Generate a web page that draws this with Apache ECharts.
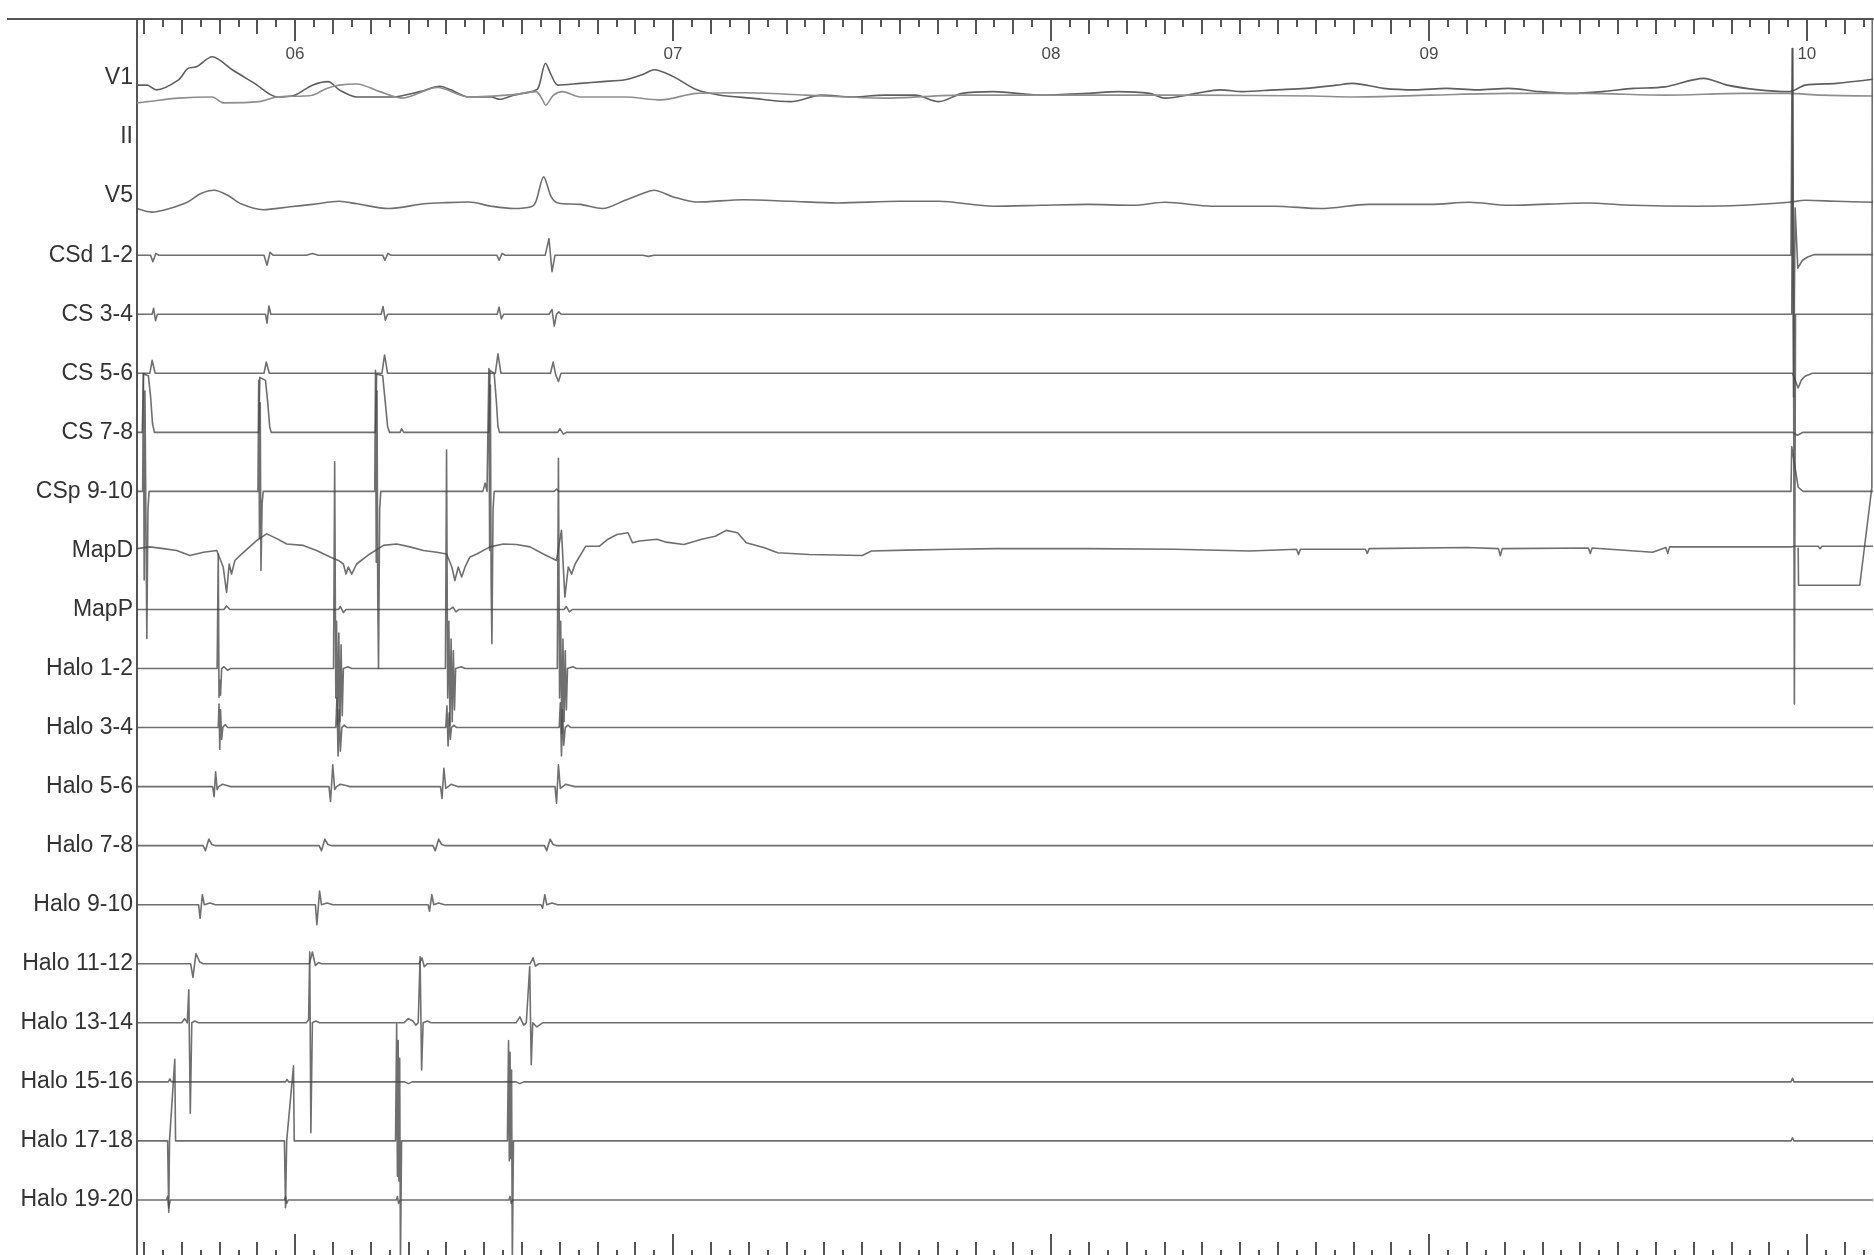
<!DOCTYPE html>
<html>
<head>
<meta charset="utf-8">
<script src="https://cdn.jsdelivr.net/npm/echarts@6/dist/echarts.min.js"></script>
<style>
html,body{margin:0;padding:0;background:#fff;}
#c{width:1874px;height:1255px;}
</style>
</head>
<body>
<div id="c"></div>
<script>
// ---- channels (row labels, top to bottom) ----
const CHANNELS = ['V1','II','V5','CSd 1-2','CS 3-4','CS 5-6','CS 7-8','CSp 9-10','MapD','MapP',
  'Halo 1-2','Halo 3-4','Halo 5-6','Halo 7-8','Halo 9-10','Halo 11-12','Halo 13-14','Halo 15-16','Halo 17-18','Halo 19-20'];

// time axis (s) and tick labels
const T_MIN = 5.582, T_MAX = 10.175;
const MAJOR_TICKS = [6, 7, 8, 9, 10];
const MAJOR_LABELS = ['06', '07', '08', '09', '10'];

// ---- signal values: [time s, amplitude] ; amplitude in tenths of a channel spacing, up = positive ----
const V1_A = [[5.582,-1.2],[5.609,-1.2],[5.633,-2.0],[5.692,-0.3],[5.716,1.6],[5.739,1.9],[5.781,3.6],[5.834,1.4],[5.893,-0.9],[5.952,-3.2],[5.999,-2.9],[6.046,-1.2],[6.088,-0.6],[6.117,-2.0],[6.164,-3.2],[6.224,-3.2],[6.259,-3.2],[6.330,-2.3],[6.383,-1.4],[6.412,-2.0],[6.460,-3.2],[6.519,-3.2],[6.542,-3.6],[6.578,-2.9],[6.625,-2.3],[6.643,-1.75],[6.663,2.5],[6.678,0.5],[6.696,-1.2],[6.755,-0.9],[6.814,-0.6],[6.873,-0.3],[6.920,0.6],[6.950,1.4],[7.001,0.24],[7.063,-2.0],[7.125,-2.9],[7.207,-3.4],[7.311,-4.0],[7.393,-2.9],[7.476,-3.2],[7.559,-2.9],[7.641,-2.9],[7.703,-4.0],[7.765,-2.6],[7.848,-2.3],[7.972,-2.9],[8.096,-2.6],[8.178,-2.3],[8.261,-2.6],[8.302,-3.4],[8.385,-2.6],[8.447,-2.0],[8.509,-2.3],[8.591,-2.0],[8.674,-1.75],[8.756,-1.2],[8.798,-0.9],[8.880,-1.75],[8.963,-2.0],[9.046,-1.75],[9.128,-2.0],[9.211,-1.75],[9.293,-2.3],[9.376,-2.6],[9.459,-2.3],[9.541,-1.75],[9.624,-1.5],[9.727,-0.05],[9.789,-1.2],[9.872,-2.0],[9.954,-2.3],[9.996,-1.2],[10.078,-0.9],[10.175,-0.2]];
const V1_B = [[5.582,-4.2],[5.609,-4.0],[5.692,-3.4],[5.781,-3.2],[5.810,-4.2],[5.905,-4.0],[5.952,-3.2],[6.046,-2.9],[6.082,-1.8],[6.117,-1.2],[6.164,-1.0],[6.224,-2.3],[6.283,-3.4],[6.377,-1.6],[6.460,-3.2],[6.578,-2.8],[6.637,-2.3],[6.655,-3.7],[6.663,-4.6],[6.684,-2.9],[6.708,-2.3],[6.755,-3.2],[6.873,-3.2],[6.968,-3.7],[7.063,-2.6],[7.187,-2.5],[7.352,-2.9],[7.559,-3.4],[7.765,-2.9],[7.972,-2.9],[8.178,-2.9],[8.385,-2.9],[8.694,-3.05],[8.798,-3.2],[9.004,-2.9],[9.211,-2.6],[9.417,-2.6],[9.624,-2.9],[9.830,-2.6],[9.954,-2.6],[10.037,-2.9],[10.175,-3.05]];
const V5 = [[5.582,-2.1],[5.621,-2.7],[5.668,-2.1],[5.716,-1.0],[5.751,0.43],[5.786,1.0],[5.822,0.15],[5.857,-1.3],[5.916,-2.3],[5.987,-1.8],[6.046,-1.4],[6.117,-0.87],[6.164,-1.3],[6.247,-2.1],[6.342,-1.3],[6.401,-1.1],[6.460,-1.0],[6.519,-1.7],[6.578,-2.1],[6.625,-1.8],[6.637,-1.0],[6.658,3.26],[6.678,-0.13],[6.696,-1.15],[6.755,-1.4],[6.814,-2.1],[6.873,-0.7],[6.920,0.43],[6.950,1.0],[7.001,-0.13],[7.063,-1.0],[7.187,-0.6],[7.311,-0.87],[7.435,-1.15],[7.600,-0.87],[7.703,-0.87],[7.848,-1.7],[7.972,-1.55],[8.096,-1.4],[8.219,-1.55],[8.302,-1.04],[8.426,-1.7],[8.591,-1.7],[8.715,-2.1],[8.839,-1.4],[9.004,-1.4],[9.107,-1.04],[9.211,-1.55],[9.417,-1.15],[9.541,-1.55],[9.706,-1.7],[9.830,-1.55],[9.954,-1.04],[9.996,-0.7],[10.078,-0.87],[10.175,-1.04]];
const CSD_12 = [[5.582,0],[5.618,0],[5.624,-1.1],[5.632,0.3],[5.640,0],[5.918,0],[5.926,-1.7],[5.934,0.5],[5.942,0],[6.030,0],[6.046,0.3],[6.062,0],[6.232,0],[6.238,-0.85],[6.246,0.3],[6.254,0],[6.534,0],[6.540,-0.85],[6.548,0.3],[6.556,0],[6.662,0],[6.672,2.8],[6.680,-2.8],[6.688,0],[6.920,0],[6.935,-0.2],[6.950,0],[9.958,0],[9.961,35],[9.965,-24],[9.969,8],[9.976,-2.2],[9.988,-0.9],[10.002,-0.3],[10.020,0.1],[10.175,0.1]];
const CS_34 = [[5.582,0],[5.622,0],[5.626,1.0],[5.631,-1.1],[5.636,0],[5.922,0],[5.926,-1.5],[5.931,1.4],[5.936,0],[6.228,0],[6.233,1.3],[6.239,-1.0],[6.245,0],[6.535,0],[6.540,1.2],[6.546,-0.8],[6.552,0],[6.672,0],[6.680,0.8],[6.686,-2.0],[6.692,0],[6.698,0.4],[6.704,0],[9.960,0],[9.963,45],[9.967,-66],[9.970,0],[10.175,0]];
const CS_56 = [[5.582,0],[5.616,0],[5.622,2.2],[5.630,0],[5.918,0],[5.924,1.9],[5.932,0],[6.230,0],[6.237,3.1],[6.245,0],[6.530,0],[6.537,3.3],[6.545,0],[6.676,0],[6.683,1.9],[6.690,-0.3],[6.697,-1.4],[6.704,0],[9.962,0],[9.977,-2.5],[9.985,-1.2],[9.995,-0.5],[10.015,0],[10.175,0]];
const CS_78 = [[5.582,0],[5.596,0],[5.599,9.9],[5.612,9.6],[5.618,6],[5.623,1.5],[5.628,0],[5.904,0],[5.907,9.3],[5.922,8.8],[5.928,5],[5.933,1],[5.937,0],[6.213,0],[6.216,9.9],[6.232,9.6],[6.239,5],[6.245,1],[6.250,0],[6.278,0],[6.282,0.6],[6.288,0],[6.513,0],[6.516,10.5],[6.527,10],[6.533,5],[6.537,1],[6.541,0],[6.695,0],[6.701,0.6],[6.710,-0.3],[6.718,0],[9.962,0],[9.975,-0.5],[9.990,0],[10.175,0]];
const CSP_910 = [[5.582,0],[5.597,0],[5.599,20],[5.601,-15],[5.603,17],[5.606,-8],[5.608,-24.9],[5.611,-3],[5.614,0],[5.902,0],[5.904,18.8],[5.906,-8],[5.908,15],[5.910,-13.4],[5.913,-2],[5.916,0],[6.211,0],[6.213,20.5],[6.215,-12],[6.217,17],[6.219,-18],[6.221,-30],[6.224,-3],[6.227,0],[6.497,0],[6.503,1.4],[6.508,0],[6.511,0],[6.513,20.8],[6.515,-10],[6.517,18],[6.519,-16],[6.521,-25.8],[6.524,-3],[6.527,0],[6.686,0],[6.692,0.4],[6.698,0],[9.958,0],[9.960,7.6],[9.977,0.7],[9.990,0],[10.175,0]];
const MAP_D = [[5.582,0.3],[5.616,0.6],[5.652,0.3],[5.687,0],[5.722,-0.85],[5.758,-0.3],[5.793,0],[5.810,-2.8],[5.819,-7.1],[5.826,-2.3],[5.832,-4.0],[5.841,-1.7],[5.855,-0.85],[5.899,1.7],[5.925,2.8],[5.952,2.0],[5.978,1.1],[6.022,0.85],[6.057,0],[6.093,-1.1],[6.115,-1.7],[6.128,-2.3],[6.135,-4.0],[6.141,-2.8],[6.150,-4.0],[6.163,-2.3],[6.198,-0.6],[6.234,0.85],[6.269,1.1],[6.304,0.6],[6.340,0],[6.375,-0.3],[6.401,-0.6],[6.415,-2.8],[6.423,-5.1],[6.432,-2.8],[6.441,-4.5],[6.450,-2.8],[6.463,-1.1],[6.481,-0.6],[6.516,0.6],[6.551,1.1],[6.586,1.0],[6.622,0.6],[6.657,-0.6],[6.692,-1.7],[6.705,3.4],[6.714,-7.9],[6.723,-2.8],[6.732,-4.0],[6.741,-2.3],[6.769,0.7],[6.805,0.7],[6.828,1.9],[6.852,2.7],[6.881,3.0],[6.893,1.3],[6.911,1.6],[6.958,1.9],[6.982,1.4],[7.029,1.0],[7.076,1.9],[7.112,2.4],[7.141,3.4],[7.171,3.0],[7.194,1.3],[7.242,0.45],[7.277,-0.4],[7.360,-0.7],[7.501,-0.85],[7.525,-0.1],[7.619,0.05],[7.738,0.2],[7.856,0.3],[8.092,0.3],[8.328,0.2],[8.526,-0.1],[8.650,0.2],[8.655,-0.7],[8.660,0.2],[8.832,0.2],[8.837,-0.5],[8.842,0.3],[9.100,0.5],[9.184,0.3],[9.189,-0.9],[9.194,0.3],[9.422,0.4],[9.427,-0.5],[9.432,0.4],[9.592,-0.3],[9.627,0.5],[9.632,-0.5],[9.637,0.6],[9.800,0.6],[9.958,0.6],[9.970,0.7],[10.030,0.7],[10.035,0.3],[10.040,0.7],[10.175,0.7]];
const MAP_P = [[5.582,0],[5.812,0],[5.819,0.6],[5.828,0],[6.115,0],[6.120,0.5],[6.128,-0.5],[6.135,0],[6.410,0],[6.418,0.4],[6.426,-0.4],[6.434,0],[6.712,0],[6.718,0.5],[6.726,-0.4],[6.734,0],[9.970,0],[10.175,0]];
const MAP_P_SAT = [[9.977,10.5],[9.978,4.1],[10.140,4.1],[10.172,20.7],[10.173,100]];
const HALO_12 = [[5.582,0],[5.794,0],[5.797,19.4],[5.799,-4.9],[5.801,-2],[5.803,-4.5],[5.806,0],[5.812,0.3],[5.822,-0.3],[5.830,0],[6.102,0],[6.105,35],[6.108,-5],[6.110,8],[6.113,-9.5],[6.116,6],[6.119,-9],[6.122,4],[6.125,-8],[6.128,0],[6.140,0.3],[6.150,0],[6.398,0],[6.401,37],[6.404,-5],[6.407,8],[6.410,-9.6],[6.413,5],[6.416,-9],[6.419,3],[6.422,-7],[6.425,0],[6.440,0.3],[6.450,0],[6.694,0],[6.697,35.6],[6.700,-5],[6.703,8],[6.706,-11],[6.709,5],[6.712,-9],[6.715,3],[6.718,-7],[6.721,0],[6.735,0.3],[6.745,0],[10.175,0]];
const HALO_34 = [[5.582,0],[5.797,0],[5.799,4],[5.801,-3.7],[5.803,3],[5.806,-2],[5.809,0],[5.815,0.5],[5.822,0],[6.108,0],[6.111,5],[6.114,-4.8],[6.117,3],[6.120,-4],[6.124,0],[6.130,0.4],[6.138,0],[6.399,0],[6.402,3.7],[6.405,-3.1],[6.408,2.5],[6.411,-2],[6.414,0],[6.420,0.4],[6.428,0],[6.699,0],[6.702,4.2],[6.705,-4.8],[6.708,3],[6.711,-3],[6.715,0],[6.722,0.4],[6.730,0],[10.175,0]];
const HALO_56 = [[5.582,0],[5.782,0],[5.786,-1.7],[5.790,2.5],[5.794,-0.5],[5.798,0],[5.808,0.4],[5.820,0.2],[5.830,0],[6.090,0],[6.094,-2.5],[6.100,3.7],[6.105,-0.5],[6.110,0],[6.120,0.4],[6.135,0.2],[6.145,0],[6.385,0],[6.389,-2],[6.394,3.1],[6.399,-0.3],[6.403,0],[6.413,0.4],[6.430,0],[6.688,0],[6.692,-2.8],[6.697,3.7],[6.702,-0.3],[6.706,0],[6.716,0.4],[6.740,0],[10.175,0]];
const HALO_78 = [[5.582,0],[5.757,0],[5.763,-0.85],[5.772,1.1],[5.780,0.2],[5.790,0],[6.064,0],[6.070,-0.85],[6.079,1.1],[6.087,0.2],[6.097,0],[6.365,0],[6.371,-0.85],[6.380,1.1],[6.388,0.2],[6.398,0],[6.660,0],[6.666,-0.85],[6.675,1.1],[6.683,0.2],[6.693,0],[10.175,0]];
const HALO_910 = [[5.582,0],[5.745,0],[5.749,-2.3],[5.755,1.7],[5.760,0],[5.775,0.3],[5.790,0],[6.054,0],[6.058,-3.4],[6.065,2.3],[6.070,0],[6.085,0.3],[6.100,0],[6.352,0],[6.356,-1.1],[6.362,1.7],[6.367,0],[6.380,0.3],[6.395,0],[6.651,0],[6.655,-0.6],[6.661,1.7],[6.666,0],[6.680,0.3],[6.695,0],[10.175,0]];
const HALO_1112 = [[5.582,0],[5.724,0],[5.730,-2.3],[5.738,1.7],[5.748,0.3],[5.757,0],[6.038,0],[6.046,2.0],[6.054,-0.3],[6.062,0.2],[6.070,0],[6.328,0],[6.336,1.0],[6.342,-0.5],[6.350,0],[6.622,0],[6.630,1.0],[6.636,-0.4],[6.645,0],[10.175,0]];
const HALO_1314 = [[5.582,0],[5.700,0],[5.708,0.7],[5.715,0],[5.719,5.6],[5.723,-15.3],[5.727,0],[5.735,0.3],[5.745,0],[6.030,0],[6.036,0.5],[6.039,12],[6.042,-18.6],[6.046,0],[6.055,0.3],[6.065,0],[6.288,0],[6.300,0.7],[6.312,0.3],[6.320,-0.4],[6.326,0],[6.331,11.2],[6.335,-8],[6.339,0],[6.350,0.3],[6.360,0],[6.585,0],[6.595,1.0],[6.605,-0.4],[6.612,0],[6.621,9.5],[6.625,-7.1],[6.629,0],[6.640,-0.7],[6.655,0],[10.175,0]];
const HALO_1516 = [[5.582,0],[5.665,0],[5.669,0.5],[5.673,0],[5.975,0],[5.979,0.4],[5.983,0],[6.290,0],[6.300,-0.3],[6.310,0],[6.585,0],[6.595,-0.3],[6.605,0],[9.958,0],[9.962,0.6],[9.966,0],[10.175,0]];
const HALO_1718 = [[5.582,0],[5.663,0],[5.666,-12.1],[5.668,0],[5.682,13.8],[5.684,0],[5.972,0],[5.975,-11.3],[5.978,0],[5.996,12.7],[5.998,0],[6.266,0],[6.269,19.8],[6.271,-6],[6.273,17],[6.275,-6.8],[6.277,14],[6.279,-21],[6.282,0],[6.562,0],[6.565,17],[6.567,-3.4],[6.569,15],[6.571,-3],[6.573,12],[6.575,-21],[6.578,0],[9.958,0],[9.962,0.5],[9.966,0],[10.175,0]];
const HALO_1920 = [[5.582,0],[5.660,0],[5.663,0.6],[5.666,-1.4],[5.670,0],[5.972,0],[5.975,0.6],[5.978,-0.6],[5.982,0],[6.268,0],[6.271,0.6],[6.274,-0.6],[6.278,0],[6.566,0],[6.569,0.6],[6.572,-0.6],[6.576,0],[10.175,0]];

const TRACES = [
  {row:0, data:V1_A, color:'#5f5f5f', smooth:0.3},
  {row:0, data:V1_B, color:'#8e8e8e', smooth:0.3},
  {row:2, data:V5, smooth:0.3},
  {row:3, data:CSD_12},
  {row:4, data:CS_34},
  {row:5, data:CS_56},
  {row:6, data:CS_78},
  {row:7, data:CSP_910},
  {row:8, data:MAP_D},
  {row:9, data:MAP_P},
  {row:9, data:MAP_P_SAT},
  {row:10, data:HALO_12},
  {row:11, data:HALO_34},
  {row:12, data:HALO_56},
  {row:13, data:HALO_78},
  {row:14, data:HALO_910},
  {row:15, data:HALO_1112},
  {row:16, data:HALO_1314},
  {row:17, data:HALO_1516},
  {row:18, data:HALO_1718},
  {row:19, data:HALO_1920}
];

// tick positions (structure of the time ruler)
const TENTH_TICKS = [], HALF_TICKS = [];
for (let k = 56; k <= 101; k++) { if (k % 10) TENTH_TICKS.push(k / 10); }
for (let k = 57; k <= 102; k++) { HALF_TICKS.push((k - 0.5) / 10); }

const FONT = '"Liberation Sans", Arial, sans-serif';
const AX = '#555';

function xAx(pos, vals, len, extra) {
  return Object.assign({
    type:'value', min:T_MIN, max:T_MAX, position:pos,
    axisLine:{show:false, onZero:false},
    splitLine:{show:false},
    axisTick:{show:true, inside:true, length:len, customValues:vals, lineStyle:{color:AX, width:2}},
    axisLabel:{show:false}
  }, extra || {});
}

const chart = echarts.init(document.getElementById('c'), null, {renderer:'canvas'});
chart.setOption({
  animation:false,
  backgroundColor:'#ffffff',
  grid:{left:137, top:19, width:1736, height:1240, outerBoundsMode:'none'},
  xAxis:[
    xAx('top', MAJOR_TICKS, 22, {
      axisLine:{show:true, onZero:false, lineStyle:{color:AX, width:2}},
      axisLabel:{show:true, inside:true, margin:27, customValues:MAJOR_TICKS,
        formatter:(v)=>MAJOR_LABELS[MAJOR_TICKS.indexOf(Math.round(v))] || '',
        fontSize:17, color:'#4a4a4a', fontFamily:FONT}
    }),
    xAx('top', TENTH_TICKS, 15),
    xAx('top', HALF_TICKS, 8),
    xAx('bottom', MAJOR_TICKS, 25),
    xAx('bottom', TENTH_TICKS, 17),
    xAx('bottom', HALF_TICKS, 9)
  ],
  yAxis:{
    type:'value', min:-1, max:20, interval:1, inverse:true,
    axisLine:{show:true, onZero:false, lineStyle:{color:AX, width:2}},
    axisTick:{show:false}, splitLine:{show:false},
    axisLabel:{
      margin:4, fontSize:23, color:'#333', fontFamily:FONT,
      formatter:(v)=>{ const i = Math.round(v); return (Math.abs(v - i) < 1e-6 && i >= 0 && i < CHANNELS.length) ? CHANNELS[i] : ''; }
    }
  },
  graphic:[
    {type:'line', silent:true, shape:{x1:7, y1:19, x2:137, y2:19}, style:{stroke:AX, lineWidth:2}}
  ],
  series: TRACES.map((tr, idx) => ({
    type:'line', name:'trace' + idx, xAxisIndex:0, yAxisIndex:0,
    data: tr.data.map(([t, a]) => [t, tr.row - a / 10]),
    showSymbol:false, symbol:'none', silent:true, clip:true,
    smooth: tr.smooth || false,
    lineStyle:{color: tr.color || 'rgba(70,70,70,0.78)', width:1.6, join:'round'}
  }))
});
</script>
</body>
</html>
